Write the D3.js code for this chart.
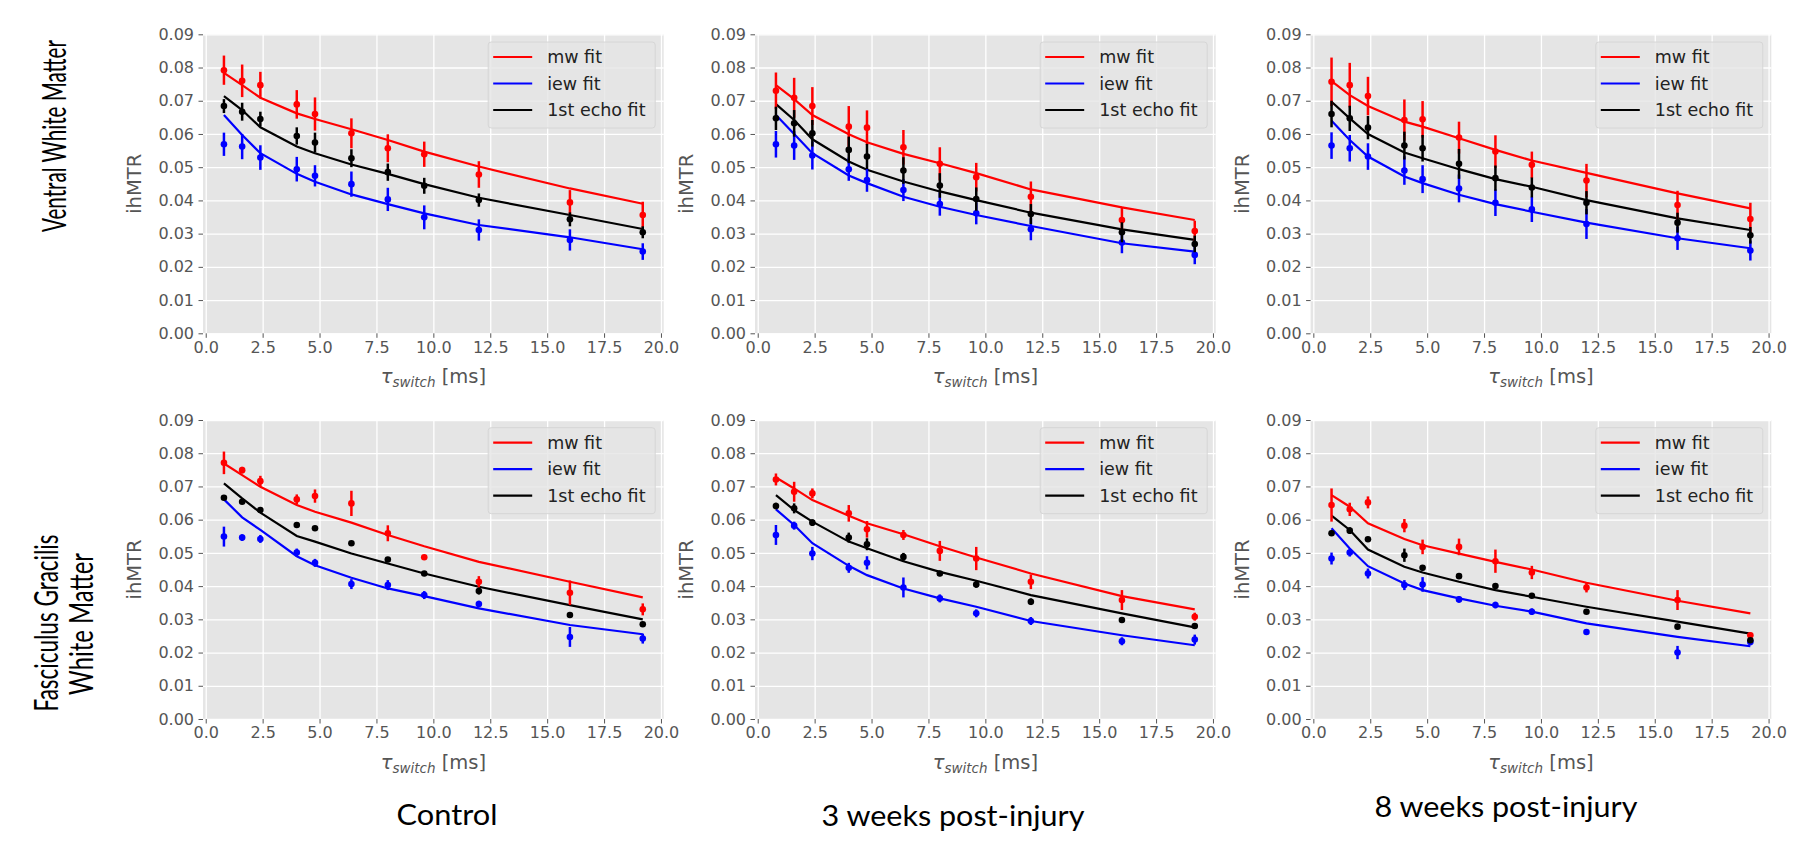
<!DOCTYPE html>
<html>
<head>
<meta charset="utf-8">
<script src="https://cdn.jsdelivr.net/npm/d3@7"></script>
<style>
  body { margin: 0; background: #fff; }
  svg { display: block; }
</style>
</head>
<body>
<svg id="fig" width="1815" height="853"></svg>
<script>
// tau_switch values [ms], shared by every panel
const tau = [0.8, 1.6, 2.4, 4.0, 4.8, 6.4, 8.0, 9.6, 12.0, 16.0, 19.2];
const xTicks = [0, 2.5, 5, 7.5, 10, 12.5, 15, 17.5, 20];
const yTicks = [0, 0.01, 0.02, 0.03, 0.04, 0.05, 0.06, 0.07, 0.08, 0.09];

const rowLabels = [["Ventral White Matter"], ["Fasciculus Gracilis", "White Matter"]];
const colLabels = ["Control", "3 weeks post-injury", "8 weeks post-injury"];
const seriesNames = ["mw fit", "iew fit", "1st echo fit"];

// Ventral white matter, control
const vcMw = [0.0792, 0.0760, 0.0747, 0.0689, 0.0660, 0.0602, 0.0557, 0.0539, 0.0478, 0.0394, 0.0356];
const vcMwErr = [0.0044, 0.0049, 0.0040, 0.0043, 0.0050, 0.0045, 0.0042, 0.0038, 0.0040, 0.0037, 0.0040];
const vcMwFit = [0.0784, 0.0747, 0.0709, 0.0662, 0.0645, 0.0614, 0.0582, 0.0547, 0.0502, 0.0436, 0.0390];
const vcIew = [0.0569, 0.0562, 0.0529, 0.0494, 0.0474, 0.0449, 0.0403, 0.0349, 0.0311, 0.0281, 0.0246];
const vcIewErr = [0.0035, 0.0038, 0.0037, 0.0037, 0.0032, 0.0038, 0.0035, 0.0036, 0.0032, 0.0032, 0.0025];
const vcIewFit = [0.0657, 0.0597, 0.0542, 0.0480, 0.0456, 0.0418, 0.0389, 0.0361, 0.0326, 0.0289, 0.0253];
const vcEcho = [0.0684, 0.0667, 0.0645, 0.0594, 0.0574, 0.0527, 0.0485, 0.0444, 0.0401, 0.0343, 0.0304];
const vcEchoErr = [0.0021, 0.0027, 0.0022, 0.0026, 0.0030, 0.0027, 0.0026, 0.0024, 0.0020, 0.0021, 0.0018];
const vcEchoFit = [0.0714, 0.0672, 0.0620, 0.0562, 0.0542, 0.0508, 0.0480, 0.0449, 0.0408, 0.0356, 0.0314];

// Ventral white matter, 3 weeks
const v3Mw = [0.0730, 0.0709, 0.0684, 0.0622, 0.0619, 0.0560, 0.0510, 0.0470, 0.0411, 0.0341, 0.0308];
const v3MwErr = [0.0055, 0.0060, 0.0057, 0.0062, 0.0052, 0.0052, 0.0050, 0.0043, 0.0046, 0.0040, 0.0031];
const v3MwFit = [0.0747, 0.0705, 0.0657, 0.0599, 0.0575, 0.0540, 0.0512, 0.0482, 0.0433, 0.0379, 0.0341];
const v3Iew = [0.0569, 0.0565, 0.0535, 0.0494, 0.0461, 0.0431, 0.0389, 0.0361, 0.0313, 0.0273, 0.0236];
const v3IewErr = [0.0040, 0.0043, 0.0042, 0.0035, 0.0035, 0.0033, 0.0035, 0.0033, 0.0033, 0.0032, 0.0028];
const v3IewFit = [0.0657, 0.0600, 0.0542, 0.0475, 0.0452, 0.0411, 0.0381, 0.0356, 0.0323, 0.0271, 0.0246];
const v3Echo = [0.0647, 0.0632, 0.0602, 0.0552, 0.0532, 0.0490, 0.0445, 0.0404, 0.0359, 0.0304, 0.0269];
const v3EchoErr = [0.0035, 0.0040, 0.0040, 0.0040, 0.0038, 0.0040, 0.0037, 0.0035, 0.0030, 0.0030, 0.0025];
const v3EchoFit = [0.0690, 0.0642, 0.0584, 0.0517, 0.0492, 0.0457, 0.0427, 0.0401, 0.0363, 0.0313, 0.0281];

// Ventral white matter, 8 weeks
const v8Mw = [0.0757, 0.0747, 0.0714, 0.0642, 0.0644, 0.0589, 0.0547, 0.0507, 0.0460, 0.0386, 0.0344];
const v8MwErr = [0.0073, 0.0067, 0.0058, 0.0062, 0.0055, 0.0048, 0.0049, 0.0040, 0.0050, 0.0043, 0.0049];
const v8MwFit = [0.0759, 0.0717, 0.0684, 0.0637, 0.0622, 0.0587, 0.0552, 0.0520, 0.0483, 0.0421, 0.0376];
const v8Iew = [0.0565, 0.0557, 0.0532, 0.0490, 0.0464, 0.0436, 0.0393, 0.0373, 0.0329, 0.0286, 0.0249];
const v8IewErr = [0.0040, 0.0040, 0.0040, 0.0043, 0.0042, 0.0042, 0.0040, 0.0038, 0.0045, 0.0035, 0.0030];
const v8IewFit = [0.0640, 0.0582, 0.0532, 0.0472, 0.0452, 0.0417, 0.0389, 0.0366, 0.0333, 0.0286, 0.0256];
const v8Echo = [0.0660, 0.0647, 0.0619, 0.0565, 0.0557, 0.0510, 0.0467, 0.0439, 0.0393, 0.0333, 0.0295];
const v8EchoErr = [0.0040, 0.0038, 0.0035, 0.0042, 0.0040, 0.0045, 0.0038, 0.0030, 0.0035, 0.0030, 0.0025];
const v8EchoFit = [0.0697, 0.0647, 0.0600, 0.0544, 0.0527, 0.0494, 0.0464, 0.0441, 0.0401, 0.0346, 0.0311];

// Fasciculus gracilis, control
const fcMw = [0.0771, 0.0749, 0.0716, 0.0661, 0.0671, 0.0649, 0.0559, 0.0487, 0.0413, 0.0380, 0.0330];
const fcMwErr = [0.0034, 0.0010, 0.0016, 0.0015, 0.0020, 0.0038, 0.0024, 0.0006, 0.0017, 0.0037, 0.0018];
const fcMwFit = [0.0769, 0.0734, 0.0699, 0.0644, 0.0624, 0.0591, 0.0554, 0.0520, 0.0473, 0.0413, 0.0366];
const fcIew = [0.0549, 0.0546, 0.0542, 0.0501, 0.0470, 0.0406, 0.0403, 0.0373, 0.0346, 0.0247, 0.0242];
const fcIewErr = [0.0030, 0.0010, 0.0012, 0.0012, 0.0012, 0.0015, 0.0015, 0.0012, 0.0010, 0.0030, 0.0015];
const fcIewFit = [0.0661, 0.0607, 0.0569, 0.0490, 0.0463, 0.0425, 0.0393, 0.0370, 0.0333, 0.0283, 0.0255];
const fcEcho = [0.0666, 0.0654, 0.0629, 0.0584, 0.0574, 0.0529, 0.0480, 0.0438, 0.0385, 0.0313, 0.0285];
const fcEchoErr = [0.0005, 0.0004, 0.0005, 0.0005, 0.0004, 0.0005, 0.0004, 0.0005, 0.0010, 0.0004, 0.0005];
const fcEchoFit = [0.0709, 0.0664, 0.0621, 0.0551, 0.0534, 0.0498, 0.0468, 0.0438, 0.0398, 0.0343, 0.0300];

// Fasciculus gracilis, 3 weeks
const f3Mw = [0.0721, 0.0684, 0.0679, 0.0619, 0.0571, 0.0554, 0.0506, 0.0483, 0.0413, 0.0358, 0.0308];
const f3MwErr = [0.0018, 0.0030, 0.0015, 0.0025, 0.0025, 0.0015, 0.0030, 0.0035, 0.0022, 0.0030, 0.0012];
const f3MwFit = [0.0727, 0.0694, 0.0659, 0.0612, 0.0589, 0.0556, 0.0520, 0.0486, 0.0438, 0.0370, 0.0330];
const f3Iew = [0.0554, 0.0582, 0.0498, 0.0455, 0.0470, 0.0396, 0.0363, 0.0318, 0.0295, 0.0234, 0.0239];
const f3IewErr = [0.0030, 0.0012, 0.0020, 0.0015, 0.0020, 0.0030, 0.0012, 0.0012, 0.0012, 0.0012, 0.0015];
const f3IewFit = [0.0631, 0.0584, 0.0529, 0.0461, 0.0433, 0.0393, 0.0363, 0.0338, 0.0295, 0.0252, 0.0222];
const f3Echo = [0.0641, 0.0634, 0.0591, 0.0546, 0.0526, 0.0488, 0.0438, 0.0405, 0.0353, 0.0298, 0.0280];
const f3EchoErr = [0.0010, 0.0015, 0.0010, 0.0015, 0.0018, 0.0012, 0.0008, 0.0010, 0.0010, 0.0008, 0.0006];
const f3EchoFit = [0.0674, 0.0629, 0.0594, 0.0534, 0.0514, 0.0475, 0.0443, 0.0416, 0.0373, 0.0318, 0.0276];

// Fasciculus gracilis, 8 weeks
const f8Mw = [0.0644, 0.0631, 0.0652, 0.0582, 0.0518, 0.0518, 0.0475, 0.0441, 0.0396, 0.0358, 0.0252];
const f8MwErr = [0.0050, 0.0020, 0.0018, 0.0020, 0.0022, 0.0025, 0.0035, 0.0020, 0.0015, 0.0030, 0.0008];
const f8MwFit = [0.0674, 0.0639, 0.0589, 0.0542, 0.0523, 0.0498, 0.0473, 0.0450, 0.0410, 0.0356, 0.0318];
const f8Iew = [0.0483, 0.0501, 0.0438, 0.0403, 0.0405, 0.0360, 0.0343, 0.0323, 0.0262, 0.0200, 0.0232];
const f8IewErr = [0.0018, 0.0012, 0.0015, 0.0015, 0.0022, 0.0010, 0.0010, 0.0010, 0.0008, 0.0020, 0.0010];
const f8IewFit = [0.0574, 0.0513, 0.0460, 0.0408, 0.0388, 0.0363, 0.0341, 0.0323, 0.0288, 0.0247, 0.0219];
const f8Echo = [0.0559, 0.0567, 0.0541, 0.0493, 0.0455, 0.0430, 0.0400, 0.0371, 0.0323, 0.0278, 0.0237];
const f8EchoErr = [0.0008, 0.0010, 0.0005, 0.0020, 0.0004, 0.0004, 0.0004, 0.0004, 0.0005, 0.0004, 0.0005];
const f8EchoFit = [0.0612, 0.0569, 0.0510, 0.0458, 0.0441, 0.0413, 0.0388, 0.0368, 0.0338, 0.0293, 0.0257];

const colors = ["#ff0000", "#0000ff", "#000000"];

// panels in row-major order; each has [mw, iew, echo] series
const panels = [
  [[vcMw, vcMwErr, vcMwFit], [vcIew, vcIewErr, vcIewFit], [vcEcho, vcEchoErr, vcEchoFit]],
  [[v3Mw, v3MwErr, v3MwFit], [v3Iew, v3IewErr, v3IewFit], [v3Echo, v3EchoErr, v3EchoFit]],
  [[v8Mw, v8MwErr, v8MwFit], [v8Iew, v8IewErr, v8IewFit], [v8Echo, v8EchoErr, v8EchoFit]],
  [[fcMw, fcMwErr, fcMwFit], [fcIew, fcIewErr, fcIewFit], [fcEcho, fcEchoErr, fcEchoFit]],
  [[f3Mw, f3MwErr, f3MwFit], [f3Iew, f3IewErr, f3IewFit], [f3Echo, f3EchoErr, f3EchoFit]],
  [[f8Mw, f8MwErr, f8MwFit], [f8Iew, f8IewErr, f8IewFit], [f8Echo, f8EchoErr, f8EchoFit]],
];

const colLeft = [203, 755, 1310.6];
const rowTop = [34.3, 420];
const pw = 460.7, ph = 299;
const tickColor = "#555555";
const font = "DejaVu Sans, sans-serif";

const svg = d3.select("#fig");

panels.forEach((series, idx) => {
  const row = Math.floor(idx / 3), col = idx % 3;
  const g = svg.append("g")
    .attr("transform", `translate(${colLeft[col]},${rowTop[row]})`);

  const x = d3.scaleLinear().domain([-0.12, 20.12]).range([0, pw]);
  const y = d3.scaleLinear().domain([0, 0.09]).range([ph, 0]);

  g.append("rect").attr("width", pw).attr("height", ph).attr("fill", "#e5e5e5");

  // white grid
  g.append("g")
    .call(d3.axisBottom(x).tickValues(xTicks).tickSize(ph).tickFormat(""))
    .call((a) => a.select(".domain").remove())
    .call((a) => a.selectAll("line").attr("stroke", "#fff").attr("stroke-width", 1.3));
  g.append("g")
    .call(d3.axisRight(y).tickValues(yTicks).tickSize(pw).tickFormat(""))
    .call((a) => a.select(".domain").remove())
    .call((a) => a.selectAll("line").attr("stroke", "#fff").attr("stroke-width", 1.3));

  // axes
  g.append("g")
    .attr("transform", `translate(0,${ph})`)
    .call(d3.axisBottom(x).tickValues(xTicks).tickSize(4.5).tickPadding(3.5).tickFormat(d3.format(".1f")))
    .call((a) => a.select(".domain").remove())
    .call((a) => a.selectAll("line").attr("stroke", tickColor))
    .call((a) => a.selectAll("text").attr("fill", tickColor).style("font", `16px ${font}`));
  g.append("g")
    .call(d3.axisLeft(y).tickValues(yTicks).tickSize(4.5).tickPadding(4.5).tickFormat(d3.format(".2f")))
    .call((a) => a.select(".domain").remove())
    .call((a) => a.selectAll("line").attr("stroke", tickColor))
    .call((a) => a.selectAll("text").attr("fill", tickColor).style("font", `16px ${font}`));

  // axis labels
  const xl = g.append("text")
    .attr("x", pw / 2).attr("y", ph + 50)
    .attr("text-anchor", "middle")
    .attr("fill", tickColor)
    .style("font", `19.5px ${font}`);
  xl.append("tspan").style("font-style", "italic").text("τ");
  xl.append("tspan").style("font-style", "italic").style("font-size", "13.5px").attr("dy", 3.5).text("switch");
  xl.append("tspan").attr("dy", -3.5).text(" [ms]");

  g.append("text")
    .attr("transform", `translate(-62,${ph / 2}) rotate(-90)`)
    .attr("text-anchor", "middle")
    .attr("fill", tickColor)
    .style("font", `19.5px ${font}`)
    .text("ihMTR");

  // fit lines
  const line = d3.line().x((d, i) => x(tau[i])).y((d) => y(d));
  series.forEach((s, k) => {
    g.append("path")
      .attr("d", line(s[2]))
      .attr("fill", "none")
      .attr("stroke", colors[k])
      .attr("stroke-width", 2.2);
  });

  // error bars and points
  series.forEach((s, k) => {
    const pg = g.append("g").attr("fill", colors[k]).attr("stroke", colors[k]);
    pg.selectAll("line")
      .data(s[0])
      .join("line")
      .attr("x1", (d, i) => x(tau[i]))
      .attr("x2", (d, i) => x(tau[i]))
      .attr("y1", (d, i) => y(d - s[1][i]))
      .attr("y2", (d, i) => y(d + s[1][i]))
      .attr("stroke-width", 2.5);
    pg.selectAll("circle")
      .data(s[0])
      .join("circle")
      .attr("cx", (d, i) => x(tau[i]))
      .attr("cy", (d) => y(d))
      .attr("r", 3.3)
      .attr("stroke", "none");
  });

  // legend
  const lw = 167, lh = 86;
  const lg = g.append("g").attr("transform", `translate(${pw - 8.5 - lw},7.7)`);
  lg.append("rect")
    .attr("width", lw).attr("height", lh).attr("rx", 3)
    .attr("fill", "#e5e5e5").attr("fill-opacity", 0.8)
    .attr("stroke", "#d6d6d6").attr("stroke-width", 1);
  seriesNames.forEach((name, k) => {
    const yy = 15 + k * 26.5;
    lg.append("line")
      .attr("x1", 5).attr("x2", 44).attr("y1", yy).attr("y2", yy)
      .attr("stroke", colors[k]).attr("stroke-width", 2.2);
    lg.append("text")
      .attr("x", 59).attr("y", yy)
      .attr("dy", "0.36em")
      .attr("fill", "#222")
      .style("font", `17.5px ${font}`)
      .text(name);
  });
});

// row labels: rotated and squeezed along their length, as in the source figure
const labelFont = "Lato, 'Open Sans', sans-serif";
const rowSpec = [
  [{ x: 66, y: 136, len: 192 }],
  [{ x: 58, y: 623, len: 177 }, { x: 93, y: 624, len: 142 }],
];
rowLabels.forEach((lines, r) => {
  lines.forEach((t, j) => {
    const s = rowSpec[r][j];
    const txt = svg.append("text")
      .attr("text-anchor", "middle")
      .attr("fill", "#000")
      .style("font", `32px ${labelFont}`)
      .text(t);
    const k = s.len / txt.node().getComputedTextLength();
    txt.attr("transform", `translate(${s.x},${s.y}) rotate(-90) scale(${k},1)`);
  });
});

// column labels
const colSpec = [
  { x: 447, y: 825, len: 101 },
  { x: 953, y: 826, len: 263 },
  { x: 1506, y: 817, len: 263 },
];
colLabels.forEach((t, c) => {
  const txt = svg.append("text")
    .attr("text-anchor", "middle")
    .attr("fill", "#000")
    .style("font", `29px ${labelFont}`)
    .text(t);
  const k = colSpec[c].len / txt.node().getComputedTextLength();
  txt.attr("transform", `translate(${colSpec[c].x},${colSpec[c].y}) scale(${k},1)`);
});
</script>
</body>
</html>
